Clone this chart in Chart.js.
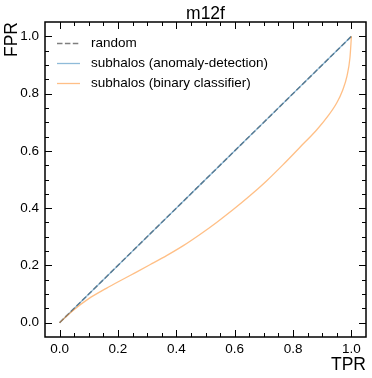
<!DOCTYPE html>
<html>
<head>
<meta charset="utf-8">
<script src="https://cdn.jsdelivr.net/npm/chart.js@4/dist/chart.umd.min.js"></script>
<style>
body { margin: 0; background: #fff; }
#myChart { display: block; }
</style>
</head>
<body>
<canvas id="myChart" width="372" height="378"></canvas>
<script>
// values
const randomX = [0, 1]
const randomY = [0, 1]

const anomalyX = [0, 0.25, 0.5, 0.75, 1]
const anomalyY = [0, 0.25, 0.5, 0.75, 1]

const binaryX = [0, 0.02, 0.045, 0.1, 0.16, 0.214, 0.26, 0.311, 0.368, 0.424, 0.481, 0.538, 0.595, 0.652, 0.709, 0.766, 0.823, 0.88, 0.92, 0.95, 0.97, 0.985, 0.995, 1.0]
const binaryY = [0, 0.019, 0.042, 0.084, 0.12, 0.150, 0.175, 0.203, 0.235, 0.269, 0.308, 0.350, 0.395, 0.443, 0.495, 0.552, 0.612, 0.672, 0.722, 0.768, 0.812, 0.862, 0.925, 1.0]

const xTicks = [0, 0.2, 0.4, 0.6, 0.8, 1.0]
const yTicks = [0, 0.2, 0.4, 0.6, 0.8, 1.0]

const chartTitle = 'm12f'
const xLabel = 'TPR'
const yLabel = 'FPR'

const FONT = '"Liberation Sans", Arial, sans-serif'

function toPoints(xs, ys) {
    return xs.map((x, i) => ({ x: x, y: ys[i] }))
}

// frame, inward ticks on all sides, legend and labels, matplotlib style
const framePlugin = {
    id: 'frame',
    afterDraw(chart) {
        const ctx = chart.ctx
        const a = chart.chartArea
        const xs = chart.scales.x
        const ys = chart.scales.y
        ctx.save()
        ctx.strokeStyle = '#000'
        ctx.lineWidth = 1

        const minor = []
        for (let i = 0; i <= 20; i++) {
            const v = Math.round(i * 5) / 100
            if (Math.abs(v * 5 - Math.round(v * 5)) > 1e-6) minor.push(v)
        }

        function tickX(v, len) {
            const px = Math.round(xs.getPixelForValue(v)) + 0.5
            ctx.beginPath()
            ctx.moveTo(px, a.bottom); ctx.lineTo(px, a.bottom - len)
            ctx.moveTo(px, a.top); ctx.lineTo(px, a.top + len)
            ctx.stroke()
        }
        function tickY(v, len) {
            const py = Math.round(ys.getPixelForValue(v)) + 0.5
            ctx.beginPath()
            ctx.moveTo(a.left, py); ctx.lineTo(a.left + len, py)
            ctx.moveTo(a.right, py); ctx.lineTo(a.right - len, py)
            ctx.stroke()
        }
        xTicks.forEach(v => tickX(v, 7))
        yTicks.forEach(v => tickY(v, 7))
        minor.forEach(v => { tickX(v, 4); tickY(v, 4) })

        ctx.lineWidth = 1.5
        ctx.strokeRect(a.left, a.top, a.right - a.left, a.bottom - a.top)

        // legend
        ctx.font = '13.5px ' + FONT
        ctx.textBaseline = 'middle'
        ctx.textAlign = 'left'
        chart.data.datasets.forEach((ds, i) => {
            const y = 43.5 + i * 20
            ctx.beginPath()
            ctx.strokeStyle = ds.borderColor
            ctx.lineWidth = ds.borderWidth
            ctx.setLineDash(ds.borderDash || [])
            ctx.moveTo(57, y); ctx.lineTo(80, y)
            ctx.stroke()
            ctx.setLineDash([])
            ctx.fillStyle = '#000'
            ctx.fillText(ds.label, 91, y)
        })

        // title and axis labels
        ctx.fillStyle = '#000'
        ctx.font = '17.5px ' + FONT
        ctx.textAlign = 'center'
        ctx.textBaseline = 'alphabetic'
        ctx.fillText(chartTitle, (a.left + a.right) / 2, 19)

        ctx.textAlign = 'right'
        ctx.fillText(xLabel, a.right, 370)

        ctx.translate(17, a.top)
        ctx.rotate(-Math.PI / 2)
        ctx.textAlign = 'right'
        ctx.fillText(yLabel, 0, 0)
        ctx.restore()
    }
}

const config = {
    type: 'scatter',
    data: {
        datasets: [{
            label: 'random',
            data: toPoints(randomX, randomY),
            showLine: true,
            borderColor: 'rgba(0, 0, 0, 0.5)',
            borderWidth: 1.5,
            borderDash: [5.5, 2.4],
            pointRadius: 0,
            order: 3
        }, {
            label: 'subhalos (anomaly-detection)',
            data: toPoints(anomalyX, anomalyY),
            showLine: true,
            borderColor: 'rgba(31, 119, 180, 0.5)',
            borderWidth: 1.3,
            pointRadius: 0,
            order: 2
        }, {
            label: 'subhalos (binary classifier)',
            data: toPoints(binaryX, binaryY),
            showLine: true,
            borderColor: 'rgba(255, 127, 14, 0.5)',
            borderWidth: 1.3,
            cubicInterpolationMode: 'monotone',
            pointRadius: 0,
            order: 1
        }]
    },
    options: {
        responsive: false,
        animation: false,
        layout: { padding: { top: 22, right: 6, left: 0, bottom: 0 } },
        plugins: {
            legend: { display: false },
            tooltip: { enabled: false }
        },
        scales: {
            x: {
                type: 'linear',
                min: -0.05,
                max: 1.05,
                grid: { display: false, drawTicks: false },
                border: { display: false },
                afterBuildTicks: scale => { scale.ticks = xTicks.map(v => ({ value: v })) },
                afterFit: scale => { scale.height = 41 },
                ticks: {
                    padding: 4,
                    color: '#000',
                    maxRotation: 0,
                    font: { family: FONT, size: 13.5 },
                    callback: v => Number(v).toFixed(1)
                }
            },
            y: {
                type: 'linear',
                min: -0.05,
                max: 1.05,
                grid: { display: false, drawTicks: false },
                border: { display: false },
                afterBuildTicks: scale => { scale.ticks = yTicks.map(v => ({ value: v })) },
                afterFit: scale => { scale.width = 45 },
                ticks: {
                    padding: 6,
                    color: '#000',
                    font: { family: FONT, size: 13.5 },
                    callback: v => Number(v).toFixed(1)
                }
            }
        }
    },
    plugins: [framePlugin]
}

const myChart = new Chart(document.getElementById('myChart'), config)
</script>
</body>
</html>
